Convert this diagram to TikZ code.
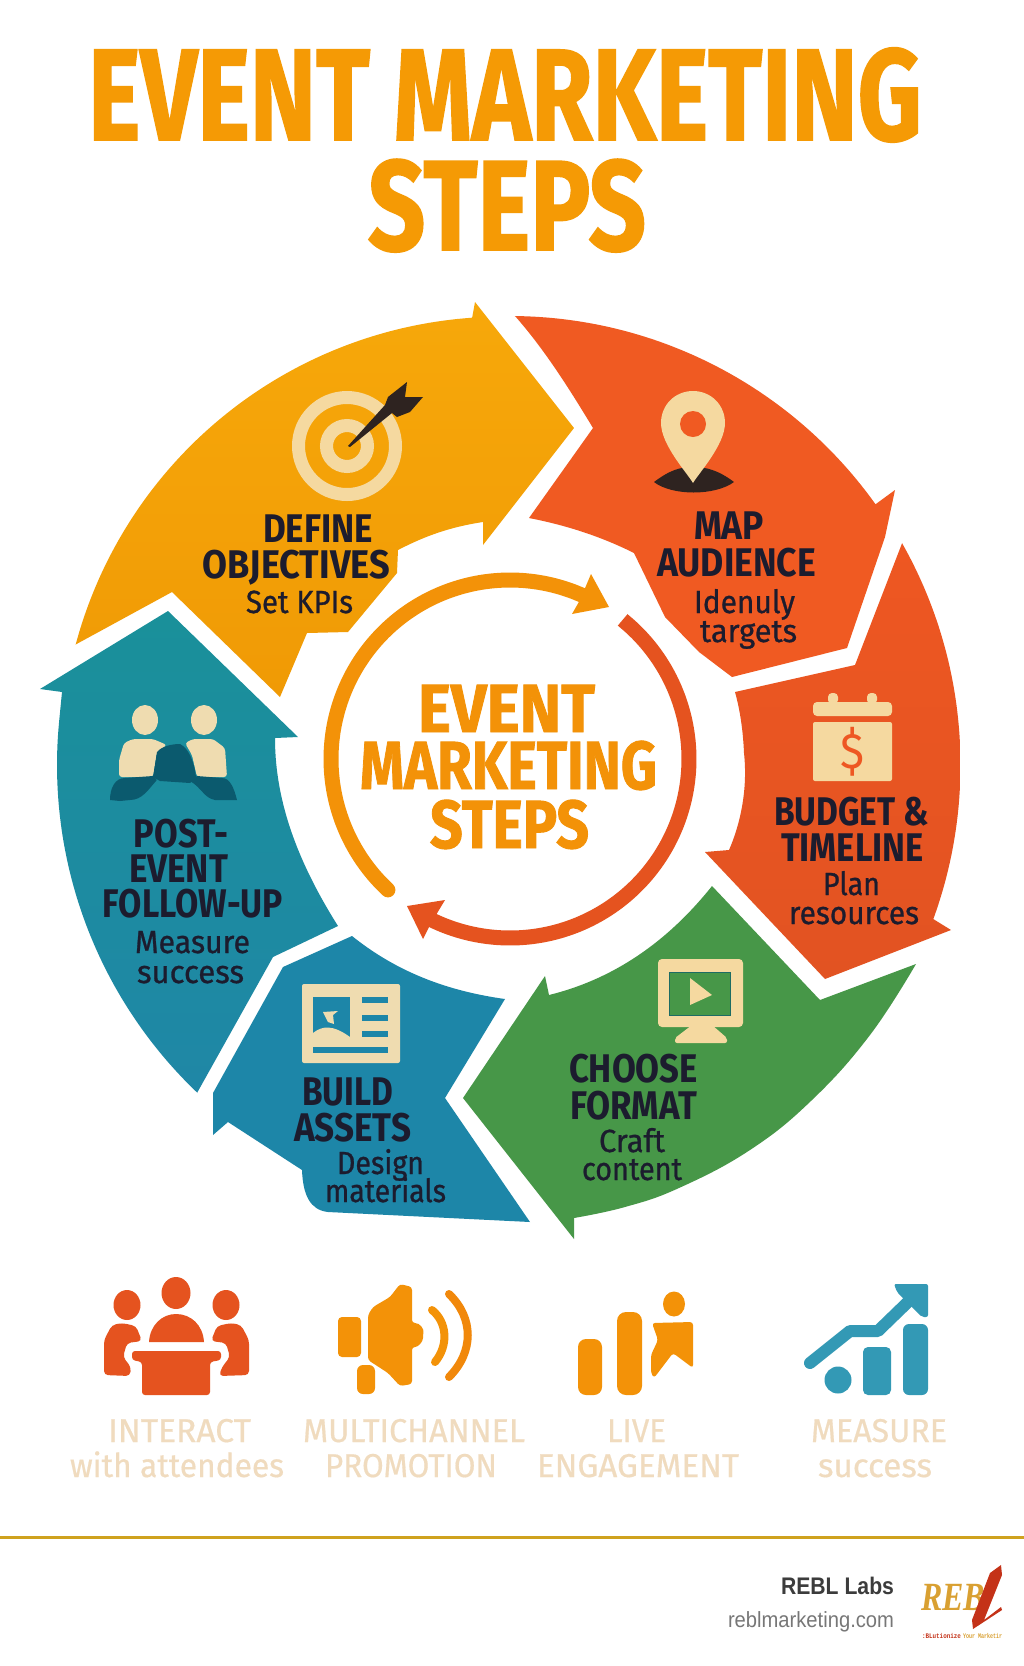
\documentclass[tikz,border=0pt]{standalone}
\usepackage{fontspec}
\usepackage{graphicx}
\setmainfont{Fira Sans}
\newfontfamily\ttlf[BoldFeatures={FakeBold=1.4}]{Fira Sans}
\newfontfamily\headf{Fira Sans}
\newfontfamily\subf[FakeBold=0.9]{Fira Sans}
\newfontfamily\lowfam[FakeBold=0.5]{Fira Sans}
\newfontfamily\footf{Liberation Sans}
\newfontfamily\logof{Liberation Serif}
\newfontfamily\tagf{Liberation Mono}
\definecolor{cream}{HTML}{F5D9A0}
\definecolor{creamb}{HTML}{EFDCB0}
\definecolor{ink}{HTML}{1C1C2E}
\definecolor{titleor}{HTML}{F59A05}
\definecolor{softtx}{HTML}{F0DBBE}
\definecolor{iconred}{HTML}{E5531F}
\definecolor{iconor}{HTML}{F39208}
\definecolor{iconbl}{HTML}{3399B5}
\definecolor{deep}{HTML}{0B5A6E}
\definecolor{dart}{HTML}{2E2320}
\definecolor{cyellowa}{HTML}{F7A80A}
\definecolor{cyellowb}{HTML}{F09A05}
\definecolor{cred}{HTML}{F05A22}
\definecolor{cbudgeta}{HTML}{EE5722}
\definecolor{cbudgetb}{HTML}{E25322}
\definecolor{cgreen}{HTML}{479748}
\definecolor{ctealm}{HTML}{1A909A}
\definecolor{ctealb}{HTML}{1F87A6}
\definecolor{cblue}{HTML}{1D86A8}
\definecolor{rulecol}{HTML}{CFA21E}
\definecolor{footdark}{HTML}{3C3C3C}
\definecolor{footgray}{HTML}{777777}
\definecolor{logogold}{HTML}{D9A032}
\definecolor{logored}{HTML}{C43218}
\tikzset{
  tx/.style={inner sep=0pt,outer sep=0pt,anchor=base,text=ink},
  segyellow/.style={top color=cyellowa,bottom color=cyellowb,draw=none},
  segred/.style={fill=cred},
  segbudget/.style={top color=cbudgeta,bottom color=cbudgetb,draw=none},
  seggreen/.style={fill=cgreen},
  segteal/.style={top color=ctealm,bottom color=ctealb,draw=none},
  segblue/.style={fill=cblue},
  ringor/.style={draw=iconor,line width=15pt},
  ringred/.style={draw=iconred,line width=15pt},
}
% \stl[colour]{name}{left}{right}{baseline}{font}{text}
\newcommand\stl[7][ink]{%
  \pgfmathsetmacro\tlw{#4-#3}%
  \pgfmathsetmacro\tlc{(#4+#3)/2}%
  \node[tx,text=#1] (#2) at (\tlc,#5) {\resizebox{\tlw pt}{\height}{#6#7}};}
\newcommand\fsz[1]{\fontsize{#1}{#1}\selectfont}
\newcommand\hdf{\headf\bfseries\fsz{40}}
\newcommand\sbtf{\subf\fsz{32}}
\newcommand\midf{\ttlf\bfseries\fsz{68}}
\newcommand\lowf{\lowfam\fsz{33}}
\begin{document}
\begin{tikzpicture}[x=1pt,y=-1pt]
\useasboundingbox (0,0) rectangle (1024,1666);
\fill[white] (0,0) rectangle (1024,1666);

% title
\stl[titleor]{t1}{88}{922}{140}{\ttlf\bfseries\fsz{130}}{EVENT MARKETING}
\stl[titleor]{t2}{368}{646}{250}{\ttlf\bfseries\fsz{128}}{STEPS}

% yellow arrow
\path[segyellow] plot[domain=165:94,samples=40,smooth] ({503+442.4*cos(\x)},{759-442.4*sin(\x)})
  -- (475,302) -- (574,428) -- (483,545) -- (483,522)
  .. controls (450,527) and (425,536) .. (398,550)
  -- (397,573) -- (348,632) -- (307,633) -- (280,697) -- (172,592) -- cycle;
% red arrow
\path[segred] plot[domain=89.4:35.5,samples=40,smooth] ({510+449*cos(\x)},{765-449*sin(\x)})
  -- (895,490) -- (885,537) -- (847,648) -- (732,677)
  -- (699,652) -- (665,617) -- (634,553)
  .. controls (600,536) and (565,525) .. (529,518) -- (593,428)
  .. controls (570,390) and (545,350) .. (515,316) -- cycle;
% budget arrow
\path[segbudget] plot[domain=29.5:-20,samples=40,smooth] ({510+450.5*cos(\x)},{765-450.5*sin(\x)})
  -- (951,930) -- (825,979) -- (705,852) -- (729,850)
  .. controls (740,825) and (748,790) .. (744,753)
  .. controls (743,730) and (740,710) .. (735,692) -- (855,665) -- cycle;
% green arrow
\path[seggreen] (463,1098) -- (545,976) -- (549,995)
  .. controls (610,980) and (665,945) .. (712,886)
  -- (820,1000) -- (916,964)
  -- plot[smooth,tension=.7] coordinates {(916,964)(870,1035)(812,1100)(750,1150)(679,1188)(625,1207)(574,1218)}
  -- (574,1239) -- cycle;
% blue arrow
\path[segblue] (352,936) .. controls (392,968) and (440,990) .. (505,999)
  -- (445,1098) -- (530,1222) -- (328,1212)
  .. controls (310,1210) and (303,1195) .. (302,1170)
  -- (228,1122) -- (213,1135) -- (213,1093) -- (283,967) -- cycle;
% teal arrow
\path[segteal] (168,611) -- (298,737) -- (275,738)
  .. controls (275,790) and (290,850) .. (338,926)
  -- (273,957) -- (197,1093)
  -- plot[domain=226.3:174.3,samples=40,smooth] ({510+453*cos(\x)},{765-453*sin(\x)})
  -- (62,692) -- (40,689) -- cycle;

% centre ring
\draw[ringor,line cap=round] plot[domain=227:66,samples=50,smooth] ({510+179*cos(\x)},{759-179*sin(\x)});
\fill[iconor] (591,574) -- (609,607) -- (572,614) -- (580,600) -- cycle;
\draw[ringred] plot[domain=51:-119,samples=50,smooth] ({510+179*cos(\x)},{759-179*sin(\x)});
\fill[iconred] (445,900) -- (407,906) -- (423,939) -- (430,925) -- cycle;
\stl[iconor]{c1}{418}{595}{732}{\midf}{EVENT}
\stl[iconor]{c2}{360}{657}{789}{\midf}{MARKETING}
\stl[iconor]{c3}{430}{589}{848}{\midf}{STEPS}

% target icon
\draw[cream,line width=13pt] (347,446) circle[radius=48.5];
\draw[cream,line width=13pt] (347,446) circle[radius=20.5];
\fill[dart] (348,446) -- (385,405) -- (388,397) -- (407,382) -- (405,397) -- (423,397) -- (410,412) -- (397,417) -- (392,413) -- (350,447) -- cycle;

% pin icon
\fill[dart] (654,482) .. controls (670,470) and (680,467) .. (693,467) .. controls (706,467) and (718,470) .. (734,482) .. controls (715,496) and (672,496) .. (654,482) -- cycle;
\fill[cream] (693,483) .. controls (688,474) and (661,445) .. (661,423) .. controls (661,405) and (675,391) .. (693,391) .. controls (711,391) and (725,405) .. (725,423) .. controls (725,445) and (698,474) .. (693,483) -- cycle;
\fill[cred] (693,424) circle[radius=13];

% calendar icon
\fill[cream,rounded corners=4pt] (813,702) rectangle (892,716);
\fill[cream,rounded corners=4pt] (828,704) -- (828,693) -- (838,693) -- (838,704) -- cycle;
\fill[cream,rounded corners=4pt] (867,704) -- (867,693) -- (877,693) -- (877,704) -- cycle;
\fill[cream,rounded corners=2pt] (813,722) rectangle (892,781);
\node[inner sep=0pt,text=cbudgeta] (dollar) at (852,752) {\resizebox{24pt}{\height}{\rmfamily\fsz{50}\$}};

% monitor icon
\fill[cream,rounded corners=4pt] (658,959) rectangle (743,1027);
\fill[cgreen,draw=deep!70!cgreen,line width=.8pt] (669,972) rectangle (730,1015);
\fill[cream] (690,978) -- (712,995) -- (690,1005) -- cycle;
\fill[cream,rounded corners=2pt] (692,1025) -- (712,1025) -- (727,1038) -- (727,1043) -- (675,1043) -- (675,1038) -- cycle;

% document icon
\fill[creamb,rounded corners=2pt] (302,984) rectangle (400,1063);
\fill[cblue] (313,997) rectangle (350,1037);
\fill[creamb] (313,1033) .. controls (322,1026) and (332,1024) .. (350,1037) -- (350,1039) -- (313,1039) -- cycle;
\fill[creamb] (323,1012) -- (338,1011) -- (333,1015) -- (334,1024) -- (328,1022) -- cycle;
\fill[cblue] (362,997) rectangle (388,1003);
\fill[cblue] (362,1015) rectangle (388,1021);
\fill[cblue] (362,1031) rectangle (388,1037);
\fill[cblue] (313,1047) rectangle (388,1053);

% people icon
\fill[creamb] (145,720) ellipse[x radius=13,y radius=15];
\fill[creamb] (204,720) ellipse[x radius=13,y radius=15];
\fill[creamb,rounded corners=3pt] (119,777) -- (119,760) -- (124,743) -- (133,739) -- (153,739) -- (167,745) -- (157,752) -- (153,777) -- cycle;
\fill[creamb,rounded corners=3pt] (185,743) -- (193,739) -- (213,739) -- (225,748) -- (227,777) -- (197,777) -- (192,755) -- cycle;
\fill[deep] (153,777) -- (157,752) .. controls (162,746) and (172,744) .. (180,744) .. controls (188,748) and (194,760) .. (196,777) -- (190,783) -- (160,781) -- cycle;
\fill[deep] (110,800) .. controls (110,788) and (115,778) .. (125,778) -- (153,776) .. controls (155,778) and (158,780) .. (156,781)
  .. controls (148,790) and (142,800) .. (130,800) -- (120,801) -- cycle;
\fill[deep] (237,800) .. controls (234,788) and (230,778) .. (222,778) -- (197,776) -- (190,781)
  .. controls (202,788) and (204,798) .. (215,800) -- cycle;

% step labels
\stl{d1}{263}{373}{542}{\hdf}{DEFINE}
\stl{d2}{203}{390}{578}{\hdf}{OBJECTIVES}
\stl{d3}{246}{353}{613}{\sbtf}{Set KPIs}
\stl{m1}{694}{764}{539}{\hdf}{MAP}
\stl{m2}{657}{816}{576}{\hdf}{AUDIENCE}
\stl{m3}{694}{795}{613}{\sbtf}{Idenuly}
\stl{m4}{700}{797}{642}{\sbtf}{targets}
\stl{b1}{774}{929}{825}{\hdf}{BUDGET \&}
\stl{b2}{781}{924}{861}{\hdf}{TIMELINE}
\stl{b3}{823}{880}{895}{\sbtf}{Plan}
\stl{b4}{789}{919}{924}{\sbtf}{resources}
\stl{f1}{569}{698}{1082}{\hdf}{CHOOSE}
\stl{f2}{570}{697}{1119}{\hdf}{FORMAT}
\stl{f3}{599}{665}{1152}{\sbtf}{Craft}
\stl{f4}{582}{682}{1180}{\sbtf}{content}
\stl{a1}{302}{393}{1105}{\hdf}{BUILD}
\stl{a2}{294}{411}{1141}{\hdf}{ASSETS}
\stl{a3}{337}{424}{1174}{\sbtf}{Design}
\stl{a4}{325}{446}{1202}{\sbtf}{materials}
\stl{p1}{134}{228}{847}{\hdf}{POST-}
\stl{p2}{129}{228}{882}{\hdf}{EVENT}
\stl{p3}{103}{283}{917}{\hdf}{FOLLOW-UP}
\stl{p4}{135}{250}{953}{\sbtf}{Measure}
\stl{p5}{137}{244}{983}{\sbtf}{success}

% interact icon
\fill[iconred] (176,1293) ellipse[x radius=14.5,y radius=16];
\fill[iconred] (127,1305) ellipse[x radius=13.5,y radius=15];
\fill[iconred] (226,1305) ellipse[x radius=13.5,y radius=15];
\fill[iconred] (149,1342) .. controls (150,1325) and (162,1314) .. (176,1314) .. controls (191,1314) and (203,1325) .. (204,1342) -- cycle;
\fill[iconred,rounded corners=3pt] (132,1351) -- (221,1351) -- (221,1360) -- (210,1362) -- (210,1395) -- (142,1395) -- (142,1362) -- (132,1360) -- cycle;
\fill[iconred,rounded corners=4pt] (104,1375) -- (104,1340) -- (112,1325) -- (122,1323) -- (136,1326) -- (142,1341) -- (127,1343) -- (123,1357) -- (131,1367) -- (130,1376) -- cycle;
\fill[iconred,rounded corners=4pt] (249,1375) -- (249,1340) -- (241,1325) -- (231,1323) -- (217,1326) -- (211,1341) -- (226,1343) -- (230,1357) -- (222,1367) -- (219,1376) -- cycle;

% speaker icon
\fill[iconor,rounded corners=4pt] (338,1317) rectangle (361,1357);
\fill[iconor,rounded corners=6pt] (357,1365) rectangle (375,1394);
\fill[iconor,rounded corners=3pt] (368,1360) -- (368,1315) -- (373,1307) -- (390,1297) -- (400,1284) -- (412,1287) -- (412,1323) .. controls (420,1323) and (424,1329) .. (423,1335) .. controls (423,1342) and (418,1347) .. (412,1347) -- (412,1384) -- (400,1386) -- (388,1373) -- cycle;
\draw[iconor,line width=8pt,line cap=round] (432,1310) .. controls (447,1322) and (449,1345) .. (435,1362);
\draw[iconor!85!iconred,line width=8pt,line cap=round] (449,1294) .. controls (474,1318) and (474,1352) .. (449,1377);

% live icon
\fill[iconor,rounded corners=8pt] (578,1339) rectangle (602,1395);
\fill[iconor,rounded corners=9pt] (617,1312) rectangle (642,1395);
\fill[iconor] (674,1304) ellipse[x radius=11,y radius=12.5];
\fill[iconor,rounded corners=3pt] (652,1323) -- (693,1322) -- (693,1368) -- (673,1353) -- (654,1378) -- (651,1373) -- (651,1355) -- (658,1340) -- cycle;

% measure icon
\fill[iconbl] (838,1380) circle[radius=13.5];
\fill[iconbl,rounded corners=5pt] (863,1347) rectangle (891,1395);
\fill[iconbl,rounded corners=6pt] (903,1324) rectangle (928,1395);
\draw[iconbl,line width=12pt,line cap=round,line join=round] (810,1363) -- (850,1331) -- (878,1331) -- (910,1300);
\fill[iconbl,rounded corners=2pt] (894,1284) -- (928,1284) -- (928,1317) -- (922,1317) -- (897,1292) -- cycle;

% bottom labels
\stl[softtx]{l1}{108}{251}{1442}{\lowf}{INTERACT}
\stl[softtx]{l2}{70}{284}{1477}{\lowf}{with attendees}
\stl[softtx]{l3}{303}{525}{1442}{\lowf}{MULTICHANNEL}
\stl[softtx]{l4}{325}{497}{1477}{\lowf}{PROMOTION}
\stl[softtx]{l5}{607}{666}{1442}{\lowf}{LIVE}
\stl[softtx]{l6}{537}{739}{1477}{\lowf}{ENGAGEMENT}
\stl[softtx]{l7}{811}{947}{1442}{\lowf}{MEASURE}
\stl[softtx]{l8}{818}{932}{1477}{\lowf}{success}

% footer
\coordinate (ruleL) at (0,1537);
\coordinate (ruleR) at (1024,1537);
\draw[draw=rulecol,line width=3pt] (ruleL) -- (ruleR);
\stl[footdark]{r1}{781}{894}{1594}{\footf\bfseries\fsz{24}}{REBL Labs}
\stl[footgray]{r2}{728}{894}{1627}{\footf\fsz{22}}{reblmarketing.com}

% logo
\stl[logogold]{g1}{921}{985}{1610}{\logof\bfseries\itshape\fsz{40}}{REB}
\fill[logored] (1001,1565) -- (1002,1575) -- (984,1620) -- (1001,1607) -- (1002,1610) -- (973,1629) -- (972,1620) -- (990,1573) -- cycle;
\stl[logored]{g2}{922}{961}{1638}{\tagf\bfseries\fsz{7}}{:BLutionize}
\stl[logogold]{g3}{963}{1002}{1638}{\tagf\bfseries\fsz{7}}{Your Marketir}
\end{tikzpicture}
\end{document}
